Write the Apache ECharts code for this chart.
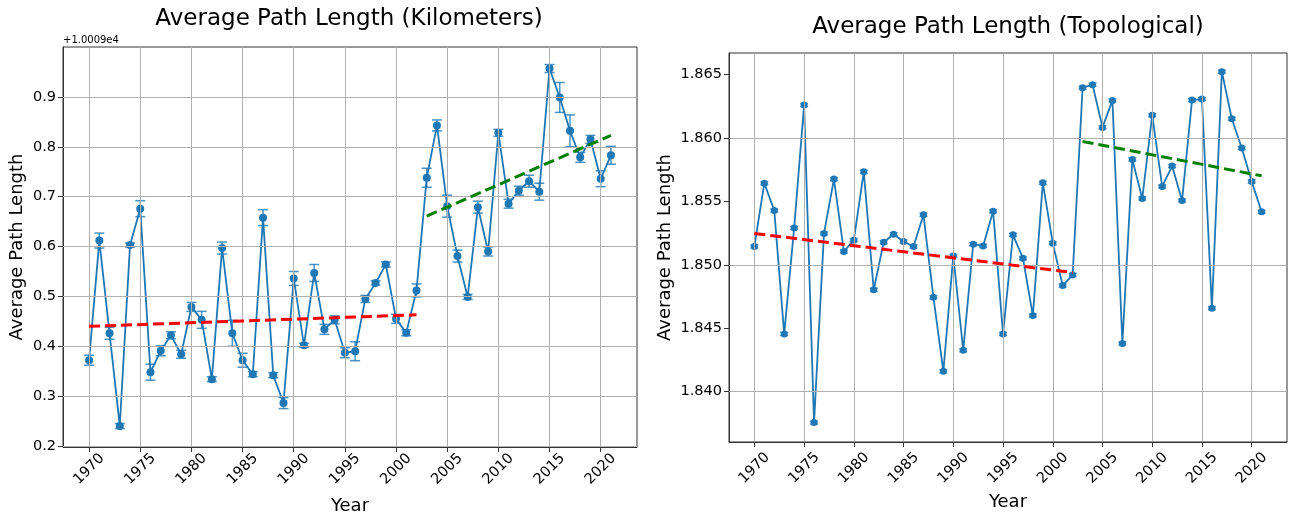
<!DOCTYPE html>
<html><head><meta charset="utf-8">
<script src="https://cdn.jsdelivr.net/npm/echarts@6/dist/echarts.min.js"></script>
<style>html,body{margin:0;padding:0;background:#fff}#c{width:1290px;height:512px}</style>
</head><body><div id="c"></div>
<script>
const years = [1970,1971,1972,1973,1974,1975,1976,1977,1978,1979,1980,1981,1982,1983,1984,1985,1986,1987,1988,1989,1990,1991,1992,1993,1994,1995,1996,1997,1998,1999,2000,2001,2002,2003,2004,2005,2006,2007,2008,2009,2010,2011,2012,2013,2014,2015,2016,2017,2018,2019,2020,2021];

// Kilometers chart: values shown relative to offset +1.0009e4
const kmOffsetLabel = '+1.0009e4';
const kmValues = [0.372,0.612,0.426,0.240,0.603,0.676,0.348,0.391,0.422,0.384,
                  0.479,0.453,0.334,0.597,0.426,0.372,0.344,0.658,0.342,0.286,
                  0.536,0.402,0.547,0.434,0.453,0.387,0.390,0.495,0.527,0.564,
                  0.455,0.427,0.512,0.738,0.843,0.681,0.581,0.499,0.679,0.590,
                  0.828,0.686,0.712,0.731,0.710,0.957,0.899,0.832,0.779,0.815,
                  0.736,0.783];
const kmErrors = [0.010,0.015,0.012,0.005,0.004,0.016,0.016,0.010,0.007,0.008,
                  0.009,0.017,0.005,0.012,0.026,0.014,0.005,0.016,0.005,0.011,
                  0.014,0.004,0.017,0.010,0.008,0.010,0.019,0.007,0.004,0.005,
                  0.009,0.006,0.013,0.019,0.011,0.022,0.012,0.005,0.012,0.009,
                  0.007,0.009,0.009,0.012,0.017,0.008,0.030,0.032,0.010,0.008,
                  0.016,0.018];
const kmTrendEarly = [[1970,0.440],[2002,0.463]];
const kmTrendLate  = [[2003,0.661],[2021,0.823]];

// Topological chart
const topoValues = [1.85144,1.85644,1.85428,1.84454,1.85291,1.86260,1.83754,1.85247,1.85676,1.85105,
                    1.85194,1.85734,1.84802,1.85178,1.85241,1.85183,1.85144,1.85394,1.84744,1.84159,
                    1.85070,1.84325,1.85162,1.85149,1.85423,1.84454,1.85236,1.85052,1.84599,1.85647,
                    1.85170,1.84836,1.84920,1.86397,1.86421,1.86084,1.86297,1.84378,1.85831,1.85523,
                    1.86181,1.85618,1.85779,1.85507,1.86300,1.86308,1.84657,1.86524,1.86152,1.85921,
                    1.85657,1.85418];
const topoErrors = [0.00012,0.00012,0.00012,0.00012,0.00012,0.00012,0.00012,0.00012,0.00012,0.00012,
                    0.00012,0.00012,0.00012,0.00012,0.00012,0.00012,0.00012,0.00012,0.00012,0.00012,
                    0.00012,0.00012,0.00012,0.00012,0.00012,0.00012,0.00012,0.00012,0.00012,0.00012,
                    0.00012,0.00012,0.00012,0.00012,0.00012,0.00012,0.00012,0.00012,0.00012,0.00012,
                    0.00012,0.00012,0.00012,0.00012,0.00012,0.00012,0.00012,0.00012,0.00012,0.00012,
                    0.00012,0.00012];
const topoTrendEarly = [[1970,1.85247],[2002,1.84939]];
const topoTrendLate  = [[2003,1.85973],[2021,1.85702]];

const xTicks = [1970,1975,1980,1985,1990,1995,2000,2005,2010,2015,2020];
const kmYTicks = [0.2,0.3,0.4,0.5,0.6,0.7,0.8,0.9];
const topoYTicks = [1.840,1.845,1.850,1.855,1.860,1.865];

const FONT = 'DejaVu Sans';
const BLUE = '#1f77b4';

function xAxisDef(idx, margin, gap){
  return {type:'value', gridIndex:idx, min:1967.45, max:2023.55,
    axisLine:{show:true, onZero:false, lineStyle:{color:'#333', width:1}},
    axisTick:{show:true, customValues:xTicks, length:5, lineStyle:{color:'#333'}},
    axisLabel:{customValues:xTicks, rotate:45, align:'center', verticalAlign:'middle', margin:margin,
      fontFamily:FONT, fontSize:14.5, color:'#000', formatter:v=>String(v)},
    splitLine:{show:false},
    name:'Year', nameLocation:'middle', nameGap:gap,
    nameTextStyle:{fontFamily:FONT, fontSize:18, color:'#000'}};
}
function yAxisDef(idx, min, max, ticks, dec, gap){
  return {type:'value', gridIndex:idx, min:min, max:max,
    axisLine:{show:true, onZero:false, lineStyle:{color:'#333', width:1}},
    axisTick:{show:true, customValues:ticks, length:5, lineStyle:{color:'#333'}},
    axisLabel:{customValues:ticks, fontFamily:FONT, fontSize:14.5, color:'#000', margin:7,
      formatter:v=>v.toFixed(dec)},
    splitLine:{show:false},
    name:'Average Path Length', nameLocation:'middle', nameGap:gap,
    nameTextStyle:{fontFamily:FONT, fontSize:18, color:'#000'}};
}
function gridLines(idx, yt){
  return {type:'line', xAxisIndex:idx, yAxisIndex:idx, data:[], silent:true, z:1,
    markLine:{silent:true, symbol:['none','none'], label:{show:false}, animation:false,
      lineStyle:{color:'#b0b0b0', width:1, type:'solid'},
      emphasis:{disabled:true},
      data:[...xTicks.map(v=>({xAxis:v})), ...yt.map(v=>({yAxis:v}))]}};
}
function errSeries(idx, vals, errs, capHalf){
  return {type:'custom', xAxisIndex:idx, yAxisIndex:idx, silent:true, z:3,
    data: years.map((y,i)=>[y, vals[i], errs[i]]),
    encode:{x:0, y:1},
    renderItem(params, api){
      const x=api.value(0), v=api.value(1), e=api.value(2);
      const lo=api.coord([x, v-e]), hi=api.coord([x, v+e]);
      const st={stroke:BLUE, lineWidth:1.5, opacity:0.8};
      return {type:'group', children:[
        {type:'line', shape:{x1:lo[0],y1:lo[1],x2:hi[0],y2:hi[1]}, style:st},
        {type:'line', shape:{x1:lo[0]-capHalf,y1:lo[1],x2:lo[0]+capHalf,y2:lo[1]}, style:st},
        {type:'line', shape:{x1:hi[0]-capHalf,y1:hi[1],x2:hi[0]+capHalf,y2:hi[1]}, style:st}
      ]};
    }};
}
function mainLine(idx, vals, size){
  return {type:'line', xAxisIndex:idx, yAxisIndex:idx, z:4,
    data: years.map((y,i)=>[y, vals[i]]),
    symbol:'circle', symbolSize:size, showAllSymbol:true,
    itemStyle:{color:BLUE}, lineStyle:{color:BLUE, width:1.8}};
}
function trend(idx, pts, color){
  return {type:'line', xAxisIndex:idx, yAxisIndex:idx, z:5, data:pts, symbol:'none',
    lineStyle:{color:color, width:3, type:[11,5]}};
}

const chart = echarts.init(document.getElementById('c'), null, {renderer:'canvas'});
chart.setOption({
  animation:false,
  backgroundColor:'#fff',
  grid:[
    {left:63, top:47, width:574, height:400, show:true, borderColor:'#333', borderWidth:1, containLabel:false, outerBoundsMode:'none'},
    {left:729, top:53, width:558, height:389, show:true, borderColor:'#333', borderWidth:1, containLabel:false, outerBoundsMode:'none'}
  ],
  xAxis:[xAxisDef(0, 22, 50), xAxisDef(1, 26, 48)],
  yAxis:[yAxisDef(0, 0.198, 1.0002, kmYTicks, 1, 37), yAxisDef(1, 1.83601, 1.866714, topoYTicks, 3, 55)],
  graphic:[
    {type:'text', x:349, y:19, style:{text:'Average Path Length (Kilometers)', font:'23px "DejaVu Sans"', fill:'#000', align:'center', verticalAlign:'middle'}},
    {type:'text', x:1008, y:27, style:{text:'Average Path Length (Topological)', font:'23px "DejaVu Sans"', fill:'#000', align:'center', verticalAlign:'middle'}},
    {type:'text', x:63, y:40, style:{text:kmOffsetLabel, font:'10px "DejaVu Sans"', fill:'#000', align:'left', verticalAlign:'middle'}}
  ],
  series:[
    gridLines(0, kmYTicks), gridLines(1, topoYTicks),
    errSeries(0, kmValues, kmErrors, 5), errSeries(1, topoValues, topoErrors, 4),
    mainLine(0, kmValues, 8), mainLine(1, topoValues, 7),
    trend(0, kmTrendEarly, '#ff0000'), trend(0, kmTrendLate, '#008000'),
    trend(1, topoTrendEarly, '#ff0000'), trend(1, topoTrendLate, '#008000')
  ]
});
</script>
</body></html>
